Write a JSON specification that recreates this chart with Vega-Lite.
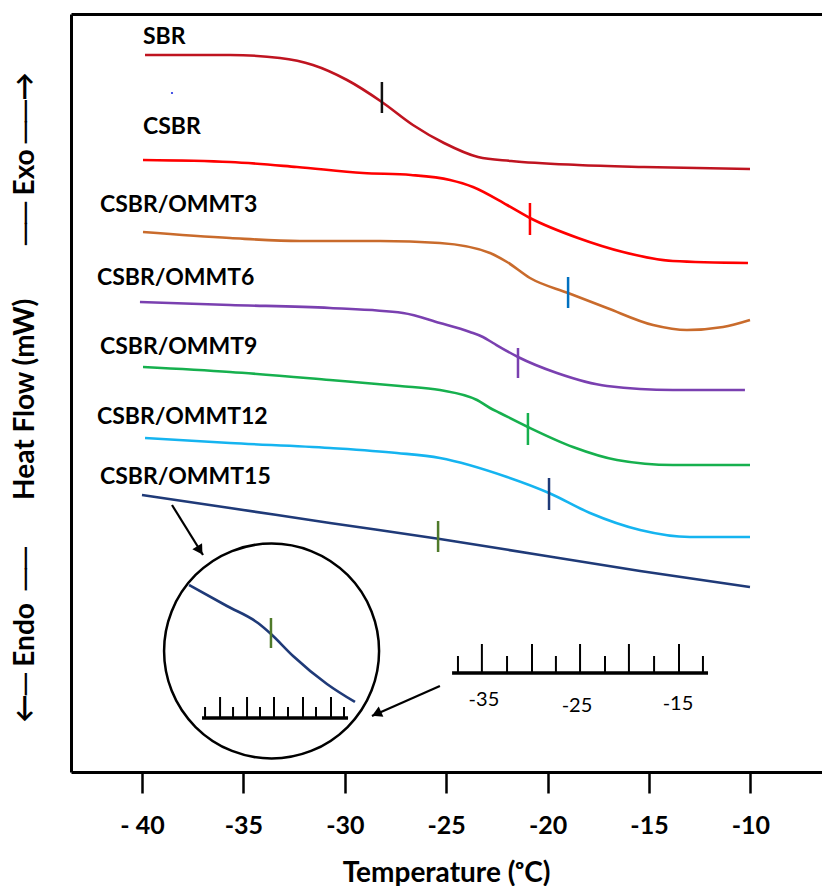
{
  "$schema": "https://vega.github.io/schema/vega-lite/v6.json",
  "description": "DSC curves of SBR, CSBR and CSBR/OMMT nanocomposites with Tg marks",
  "autosize": {"type": "none"},
  "padding": {"left": 71, "top": 14, "right": 0, "bottom": 114},
  "width": 751,
  "height": 758,
  "background": "white",
  "config": {"view": {"stroke": null}, "text": {"font": "Lato, DejaVu Sans"}},
  "datasets": {
    "curves": [
      {"s": "SBR", "t": -39.85, "hf": 717}, {"s": "SBR", "t": -35.66, "hf": 717}, {"s": "SBR", "t": -33.2, "hf": 714},
      {"s": "SBR", "t": -31.57, "hf": 707}, {"s": "SBR", "t": -29.89, "hf": 692}, {"s": "SBR", "t": -28.17, "hf": 670},
      {"s": "SBR", "t": -26.64, "hf": 647}, {"s": "SBR", "t": -25.11, "hf": 629}, {"s": "SBR", "t": -23.43, "hf": 615},
      {"s": "SBR", "t": -21.8, "hf": 611}, {"s": "SBR", "t": -18.5, "hf": 607}, {"s": "SBR", "t": -15.25, "hf": 605},
      {"s": "SBR", "t": -10.02, "hf": 603},
      {"s": "CSBR", "t": -39.95, "hf": 612}, {"s": "CSBR", "t": -35.66, "hf": 610}, {"s": "CSBR", "t": -32.36, "hf": 605},
      {"s": "CSBR", "t": -29.1, "hf": 599}, {"s": "CSBR", "t": -26.74, "hf": 597}, {"s": "CSBR", "t": -24.81, "hf": 592},
      {"s": "CSBR", "t": -23.68, "hf": 585}, {"s": "CSBR", "t": -22.0, "hf": 567}, {"s": "CSBR", "t": -20.87, "hf": 554},
      {"s": "CSBR", "t": -18.5, "hf": 534}, {"s": "CSBR", "t": -16.28, "hf": 520}, {"s": "CSBR", "t": -13.82, "hf": 511},
      {"s": "CSBR", "t": -10.12, "hf": 509},
      {"s": "CSBR/OMMT3", "t": -39.95, "hf": 540}, {"s": "CSBR/OMMT3", "t": -35.66, "hf": 534}, {"s": "CSBR/OMMT3", "t": -32.21, "hf": 531},
      {"s": "CSBR/OMMT3", "t": -28.26, "hf": 531}, {"s": "CSBR/OMMT3", "t": -25.31, "hf": 529}, {"s": "CSBR/OMMT3", "t": -22.84, "hf": 519},
      {"s": "CSBR/OMMT3", "t": -22.0, "hf": 510}, {"s": "CSBR/OMMT3", "t": -20.87, "hf": 494}, {"s": "CSBR/OMMT3", "t": -18.99, "hf": 479},
      {"s": "CSBR/OMMT3", "t": -17.07, "hf": 464}, {"s": "CSBR/OMMT3", "t": -14.8, "hf": 447}, {"s": "CSBR/OMMT3", "t": -13.13, "hf": 442},
      {"s": "CSBR/OMMT3", "t": -11.35, "hf": 445}, {"s": "CSBR/OMMT3", "t": -10.02, "hf": 452},
      {"s": "CSBR/OMMT6", "t": -40.1, "hf": 470}, {"s": "CSBR/OMMT6", "t": -35.66, "hf": 467}, {"s": "CSBR/OMMT6", "t": -30.73, "hf": 464},
      {"s": "CSBR/OMMT6", "t": -27.13, "hf": 459}, {"s": "CSBR/OMMT6", "t": -25.31, "hf": 449}, {"s": "CSBR/OMMT6", "t": -23.83, "hf": 440},
      {"s": "CSBR/OMMT6", "t": -23.19, "hf": 435}, {"s": "CSBR/OMMT6", "t": -22.69, "hf": 429}, {"s": "CSBR/OMMT6", "t": -21.46, "hf": 415},
      {"s": "CSBR/OMMT6", "t": -19.54, "hf": 399}, {"s": "CSBR/OMMT6", "t": -17.07, "hf": 386}, {"s": "CSBR/OMMT6", "t": -13.82, "hf": 382},
      {"s": "CSBR/OMMT6", "t": -10.27, "hf": 382},
      {"s": "CSBR/OMMT9", "t": -39.95, "hf": 405}, {"s": "CSBR/OMMT9", "t": -35.66, "hf": 400}, {"s": "CSBR/OMMT9", "t": -30.73, "hf": 392},
      {"s": "CSBR/OMMT9", "t": -27.28, "hf": 386}, {"s": "CSBR/OMMT9", "t": -25.31, "hf": 382}, {"s": "CSBR/OMMT9", "t": -23.48, "hf": 372},
      {"s": "CSBR/OMMT9", "t": -22.84, "hf": 364}, {"s": "CSBR/OMMT9", "t": -22.35, "hf": 359}, {"s": "CSBR/OMMT9", "t": -20.97, "hf": 345},
      {"s": "CSBR/OMMT9", "t": -18.75, "hf": 325}, {"s": "CSBR/OMMT9", "t": -16.58, "hf": 312}, {"s": "CSBR/OMMT9", "t": -13.82, "hf": 307},
      {"s": "CSBR/OMMT9", "t": -10.02, "hf": 307},
      {"s": "CSBR/OMMT12", "t": -39.85, "hf": 334}, {"s": "CSBR/OMMT12", "t": -35.66, "hf": 329}, {"s": "CSBR/OMMT12", "t": -30.73, "hf": 324},
      {"s": "CSBR/OMMT12", "t": -27.43, "hf": 319}, {"s": "CSBR/OMMT12", "t": -25.31, "hf": 314}, {"s": "CSBR/OMMT12", "t": -22.0, "hf": 295},
      {"s": "CSBR/OMMT12", "t": -19.93, "hf": 279}, {"s": "CSBR/OMMT12", "t": -17.91, "hf": 259}, {"s": "CSBR/OMMT12", "t": -15.44, "hf": 242},
      {"s": "CSBR/OMMT12", "t": -12.98, "hf": 235}, {"s": "CSBR/OMMT12", "t": -10.02, "hf": 235},
      {"s": "CSBR/OMMT15", "t": -40.0, "hf": 277}, {"s": "CSBR/OMMT15", "t": -35.66, "hf": 264}, {"s": "CSBR/OMMT15", "t": -30.73, "hf": 249},
      {"s": "CSBR/OMMT15", "t": -25.31, "hf": 233}, {"s": "CSBR/OMMT15", "t": -20.37, "hf": 217}, {"s": "CSBR/OMMT15", "t": -15.44, "hf": 201},
      {"s": "CSBR/OMMT15", "t": -10.02, "hf": 185},
      {"s": "CSBR/OMMT15 zoom", "t": -37.68, "hf": 187}, {"s": "CSBR/OMMT15 zoom", "t": -35.81, "hf": 166}, {"s": "CSBR/OMMT15 zoom", "t": -34.28, "hf": 149},
      {"s": "CSBR/OMMT15 zoom", "t": -33.64, "hf": 138}, {"s": "CSBR/OMMT15 zoom", "t": -32.55, "hf": 116}, {"s": "CSBR/OMMT15 zoom", "t": -30.88, "hf": 88},
      {"s": "CSBR/OMMT15 zoom", "t": -29.5, "hf": 70}
    ],
    "tg": [
      {"s": "SBR", "t": -28.17, "lo": 659, "hi": 690},
      {"s": "CSBR", "t": -20.87, "lo": 537, "hi": 569},
      {"s": "CSBR/OMMT3", "t": -18.99, "lo": 464, "hi": 495},
      {"s": "CSBR/OMMT6", "t": -21.46, "lo": 394, "hi": 424},
      {"s": "CSBR/OMMT9", "t": -20.97, "lo": 327, "hi": 359},
      {"s": "CSBR/OMMT12", "t": -19.93, "lo": 262, "hi": 294},
      {"s": "CSBR/OMMT15", "t": -25.4, "lo": 220, "hi": 251},
      {"s": "CSBR/OMMT15 zoom", "t": -33.64, "lo": 124, "hi": 154}
    ],
    "names": [
      {"name": "SBR", "t": -39.95, "hf": 735},
      {"name": "CSBR", "t": -39.95, "hf": 645},
      {"name": "CSBR/OMMT3", "t": -42.07, "hf": 567},
      {"name": "CSBR/OMMT6", "t": -42.22, "hf": 494},
      {"name": "CSBR/OMMT9", "t": -42.07, "hf": 425},
      {"name": "CSBR/OMMT12", "t": -42.22, "hf": 355},
      {"name": "CSBR/OMMT15", "t": -42.07, "hf": 295}
    ],
    "scaleBase": [
      {"t": -37.04, "t2": -29.84, "hf": 54},
      {"t": -24.71, "t2": -12.09, "hf": 99}
    ],
    "scaleTicks": [
      {"t": -36.89, "lo": 54, "hi": 65}, {"t": -36.15, "lo": 54, "hi": 75}, {"t": -35.51, "lo": 54, "hi": 65},
      {"t": -34.82, "lo": 54, "hi": 75}, {"t": -34.18, "lo": 54, "hi": 65}, {"t": -33.49, "lo": 54, "hi": 75},
      {"t": -32.8, "lo": 54, "hi": 65}, {"t": -32.06, "lo": 54, "hi": 75}, {"t": -31.42, "lo": 54, "hi": 65},
      {"t": -30.68, "lo": 54, "hi": 75}, {"t": -30.04, "lo": 54, "hi": 65},
      {"t": -24.42, "lo": 99, "hi": 116}, {"t": -23.24, "lo": 99, "hi": 128}, {"t": -22.0, "lo": 99, "hi": 116},
      {"t": -20.77, "lo": 99, "hi": 128}, {"t": -19.59, "lo": 99, "hi": 116}, {"t": -18.4, "lo": 99, "hi": 128},
      {"t": -17.17, "lo": 99, "hi": 116}, {"t": -15.99, "lo": 99, "hi": 128}, {"t": -14.75, "lo": 99, "hi": 116},
      {"t": -13.52, "lo": 99, "hi": 128}, {"t": -12.34, "lo": 99, "hi": 116}
    ],
    "scaleLabels": [
      {"label": "-35", "t": -23.14, "hf": 72},
      {"label": "-25", "t": -18.55, "hf": 66},
      {"label": "-15", "t": -13.57, "hf": 68}
    ],
    "arrows": [
      {"id": "a1", "t": -38.52, "hf": 267, "t2": -36.99, "hf2": 217},
      {"id": "a2", "t": -25.31, "hf": 86, "t2": -28.66, "hf2": 56}
    ],
    "heads": [
      {"id": "a1", "t": -37.19, "hf": 223},
      {"id": "a2", "t": -28.36, "hf": 59}
    ],
    "zoom": [{"t": -33.61, "hf": 121}],
    "dot": [{"t": -38.52, "hf": 679}]
  },
  "resolve": {"axis": {"x": "independent"}},
  "layer": [
    {
      "data": {"name": "curves"},
      "mark": {"type": "line", "interpolate": "monotone", "strokeWidth": 2.6},
      "encoding": {
        "x": {
          "field": "t", "type": "quantitative",
          "scale": {"domain": [-43.5, -6.47], "nice": false, "zero": false},
          "axis": {
            "values": [-40, -35, -30, -25, -20, -15, -10],
            "grid": false,
            "domainColor": "black", "domainWidth": 3,
            "tickColor": "black", "tickWidth": 2.5, "tickSize": 21,
            "labelExpr": "datum.value == -40 ? '- 40' : '-' + abs(datum.value)",
            "labelFont": "Lato", "labelFontWeight": "bold", "labelFontSize": 25, "labelColor": "black",
            "labelPadding": 32, "labelBaseline": "middle", "labelFlush": false, "labelOverlap": false,
            "title": "Temperature (ᵒC)",
            "titleFont": "Lato, DejaVu Sans", "titleFontWeight": "bold", "titleFontSize": 28, "titleColor": "black",
            "titleX": 375, "titleY": 101, "titleBaseline": "middle", "titleAlign": "center"
          }
        },
        "y": {
          "field": "hf", "type": "quantitative",
          "scale": {"domain": [0, 758], "nice": false, "zero": false},
          "axis": {
            "grid": false, "ticks": false, "labels": false,
            "domainColor": "black", "domainWidth": 3,
            "title": "←─\u00a0Endo\u00a0\u00a0──\u00a0\u00a0\u00a0\u00a0\u00a0\u00a0\u00a0Heat Flow (mW)\u00a0\u00a0\u00a0\u00a0\u00a0\u00a0\u00a0\u00a0──\u00a0Exo\u00a0──→",
            "titleFont": "Lato, DejaVu Sans", "titleFontWeight": "bold", "titleFontSize": 28, "titleColor": "black",
            "titleAngle": -90, "titleX": -46, "titleY": 383, "titleBaseline": "middle", "titleAlign": "center"
          }
        },
        "color": {
          "field": "s", "type": "nominal", "legend": null,
          "scale": {
            "domain": ["SBR", "CSBR", "CSBR/OMMT3", "CSBR/OMMT6", "CSBR/OMMT9", "CSBR/OMMT12", "CSBR/OMMT15", "CSBR/OMMT15 zoom"],
            "range": ["#BF1420", "#FF0000", "#C96B2C", "#7A40B0", "#16B04E", "#15B4F0", "#1F3A78", "#1F3A78"]
          }
        }
      }
    },
    {
      "data": {"name": "tg"},
      "mark": {"type": "rule", "strokeWidth": 2.5},
      "encoding": {
        "x": {
          "field": "t", "type": "quantitative",
          "axis": {"orient": "top", "grid": false, "ticks": false, "labels": false, "title": null, "domainColor": "black", "domainWidth": 3}
        },
        "y": {"field": "lo", "type": "quantitative"},
        "y2": {"field": "hi"},
        "stroke": {
          "field": "s", "type": "nominal", "legend": null,
          "scale": {
            "domain": ["SBR", "CSBR", "CSBR/OMMT3", "CSBR/OMMT6", "CSBR/OMMT9", "CSBR/OMMT12", "CSBR/OMMT15", "CSBR/OMMT15 zoom"],
            "range": ["#111111", "#FF0000", "#0070C0", "#7A40B0", "#16B04E", "#1F3A78", "#4F7A2A", "#4F7A2A"]
          }
        }
      }
    },
    {
      "data": {"name": "names"},
      "mark": {"type": "text", "align": "left", "baseline": "middle", "font": "Lato", "fontWeight": "bold", "fontSize": 23, "color": "black"},
      "encoding": {
        "x": {"field": "t", "type": "quantitative", "axis": null},
        "y": {"field": "hf", "type": "quantitative"},
        "text": {"field": "name"}
      }
    },
    {
      "data": {"name": "zoom"},
      "mark": {"type": "point", "shape": "circle", "filled": false, "size": 46225, "stroke": "black", "strokeWidth": 2.5, "opacity": 1},
      "encoding": {
        "x": {"field": "t", "type": "quantitative", "axis": null},
        "y": {"field": "hf", "type": "quantitative"}
      }
    },
    {
      "data": {"name": "scaleBase"},
      "mark": {"type": "rule", "strokeWidth": 3.5, "color": "black"},
      "encoding": {
        "x": {"field": "t", "type": "quantitative", "axis": null},
        "x2": {"field": "t2"},
        "y": {"field": "hf", "type": "quantitative"}
      }
    },
    {
      "data": {"name": "scaleTicks"},
      "mark": {"type": "rule", "strokeWidth": 2, "color": "black"},
      "encoding": {
        "x": {"field": "t", "type": "quantitative", "axis": null},
        "y": {"field": "lo", "type": "quantitative"},
        "y2": {"field": "hi"}
      }
    },
    {
      "data": {"name": "scaleLabels"},
      "mark": {"type": "text", "align": "center", "baseline": "middle", "font": "Lato", "fontSize": 20, "color": "black"},
      "encoding": {
        "x": {"field": "t", "type": "quantitative", "axis": null},
        "y": {"field": "hf", "type": "quantitative"},
        "text": {"field": "label"}
      }
    },
    {
      "data": {"name": "arrows"},
      "mark": {"type": "rule", "strokeWidth": 2.2, "color": "black"},
      "encoding": {
        "x": {"field": "t", "type": "quantitative", "axis": null},
        "y": {"field": "hf", "type": "quantitative"},
        "x2": {"field": "t2"},
        "y2": {"field": "hf2"}
      }
    },
    {
      "data": {"name": "heads"},
      "transform": [{"filter": "datum.id == 'a1'"}],
      "mark": {"type": "point", "shape": "triangle", "filled": true, "size": 130, "color": "black", "opacity": 1, "angle": 148},
      "encoding": {
        "x": {"field": "t", "type": "quantitative", "axis": null},
        "y": {"field": "hf", "type": "quantitative"}
      }
    },
    {
      "data": {"name": "heads"},
      "transform": [{"filter": "datum.id == 'a2'"}],
      "mark": {"type": "point", "shape": "triangle", "filled": true, "size": 130, "color": "black", "opacity": 1, "angle": 246},
      "encoding": {
        "x": {"field": "t", "type": "quantitative", "axis": null},
        "y": {"field": "hf", "type": "quantitative"}
      }
    },
    {
      "data": {"name": "dot"},
      "mark": {"type": "point", "shape": "circle", "filled": true, "size": 5, "color": "#2030E0", "opacity": 1},
      "encoding": {
        "x": {"field": "t", "type": "quantitative", "axis": null},
        "y": {"field": "hf", "type": "quantitative"}
      }
    }
  ]
}
